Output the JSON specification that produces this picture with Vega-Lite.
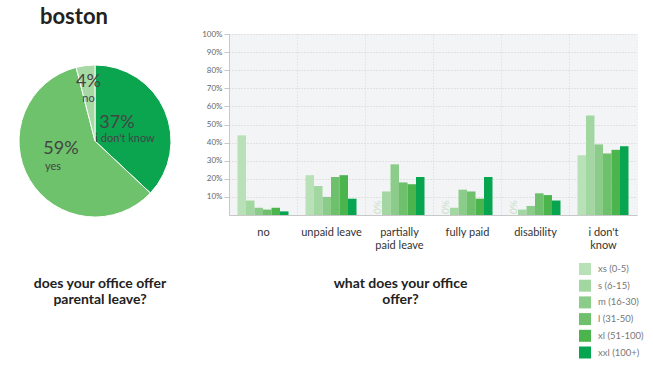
{
  "$schema": "https://vega.github.io/schema/vega-lite/v6.json",
  "padding": {"left": 0, "top": 6, "right": 5, "bottom": 0},
  "autosize": {"type": "pad"},
  "background": "white",
  "config": {
    "font": "Lato",
    "view": {"stroke": null},
    "axis": {"labelFont": "Lato", "titleFont": "Lato"},
    "legend": {"labelFont": "Lato"},
    "title": {"font": "Lato"}
  },
  "title": {
    "text": "boston",
    "anchor": "start",
    "dx": 40,
    "fontSize": 22,
    "fontWeight": "bold",
    "color": "#222222",
    "offset": 1
  },
  "resolve": {"scale": {"color": "independent"}, "legend": {"color": "independent"}},
  "bounds": "flush",
  "spacing": 39,
  "hconcat": [
    {
      "width": 190,
      "height": 214,
      "data": {
        "values": [
          {"answer": "i don't know", "share": 0.37, "ord": 1},
          {"answer": "yes", "share": 0.59, "ord": 2},
          {"answer": "no", "share": 0.04, "ord": 3}
        ]
      },
      "title": {
        "text": ["does your office offer", "parental leave?"],
        "orient": "bottom",
        "anchor": "middle",
        "dx": 5,
        "offset": 29,
        "fontSize": 14,
        "fontWeight": "bold",
        "color": "#222222",
        "lineHeight": 16
      },
      "encoding": {
        "theta": {"field": "share", "type": "quantitative", "stack": true},
        "order": {"field": "ord", "type": "quantitative", "sort": "ascending"}
      },
      "layer": [
        {
          "mark": {"type": "arc", "outerRadius": 76, "stroke": "white", "strokeWidth": 1},
          "encoding": {
            "color": {
              "field": "answer",
              "type": "nominal",
              "scale": {"domain": ["i don't know", "yes", "no"], "range": ["#0ba550", "#6dc26b", "#a6d9a4"]},
              "legend": null
            }
          }
        },
        {
          "mark": {"type": "text", "radius": 24, "dy": -8, "fontSize": 18, "color": "#444444", "align": "center", "baseline": "middle"},
          "encoding": {
            "text": {"condition": {"test": "datum.answer == \"i don't know\"", "field": "share", "type": "quantitative", "format": ".0%"}, "value": ""}
          }
        },
        {
          "mark": {"type": "text", "radius": 24, "dy": 8, "dx": 8, "fontSize": 11, "color": "#444444", "align": "center", "baseline": "middle"},
          "encoding": {
            "text": {"condition": {"test": "datum.answer == \"i don't know\"", "field": "answer", "type": "nominal"}, "value": ""}
          }
        },
        {
          "mark": {"type": "text", "radius": 36, "dy": -10, "dx": -3, "fontSize": 18, "color": "#444444", "align": "center", "baseline": "middle"},
          "encoding": {
            "text": {"condition": {"test": "datum.answer == 'yes'", "field": "share", "type": "quantitative", "format": ".0%"}, "value": ""}
          }
        },
        {
          "mark": {"type": "text", "radius": 36, "dy": 8, "dx": -11, "fontSize": 11, "color": "#444444", "align": "center", "baseline": "middle"},
          "encoding": {
            "text": {"condition": {"test": "datum.answer == 'yes'", "field": "answer", "type": "nominal"}, "value": ""}
          }
        },
        {
          "mark": {"type": "text", "radius": 52, "dy": -7, "fontSize": 18, "color": "#444444", "align": "center", "baseline": "middle"},
          "encoding": {
            "text": {"condition": {"test": "datum.answer == 'no'", "field": "share", "type": "quantitative", "format": ".0%"}, "value": ""}
          }
        },
        {
          "mark": {"type": "text", "radius": 52, "dy": 10, "fontSize": 11, "color": "#444444", "align": "center", "baseline": "middle"},
          "encoding": {
            "text": {"condition": {"test": "datum.answer == 'no'", "field": "answer", "type": "nominal"}, "value": ""}
          }
        }
      ]
    },
    {
      "width": 408,
      "height": 181,
      "view": {"fill": "#f3f4f6", "stroke": null},
      "data": {
        "values": [
          {"offer": "no", "size": "xs (0-5)", "value": 44},
          {"offer": "no", "size": "s (6-15)", "value": 8},
          {"offer": "no", "size": "m (16-30)", "value": 4},
          {"offer": "no", "size": "l (31-50)", "value": 3},
          {"offer": "no", "size": "xl (51-100)", "value": 4},
          {"offer": "no", "size": "xxl (100+)", "value": 2},
          {"offer": "unpaid leave", "size": "xs (0-5)", "value": 22},
          {"offer": "unpaid leave", "size": "s (6-15)", "value": 16},
          {"offer": "unpaid leave", "size": "m (16-30)", "value": 10},
          {"offer": "unpaid leave", "size": "l (31-50)", "value": 21},
          {"offer": "unpaid leave", "size": "xl (51-100)", "value": 22},
          {"offer": "unpaid leave", "size": "xxl (100+)", "value": 9},
          {"offer": "partially paid leave", "size": "xs (0-5)", "value": 0},
          {"offer": "partially paid leave", "size": "s (6-15)", "value": 13},
          {"offer": "partially paid leave", "size": "m (16-30)", "value": 28},
          {"offer": "partially paid leave", "size": "l (31-50)", "value": 18},
          {"offer": "partially paid leave", "size": "xl (51-100)", "value": 17},
          {"offer": "partially paid leave", "size": "xxl (100+)", "value": 21},
          {"offer": "fully paid", "size": "xs (0-5)", "value": 0},
          {"offer": "fully paid", "size": "s (6-15)", "value": 4},
          {"offer": "fully paid", "size": "m (16-30)", "value": 14},
          {"offer": "fully paid", "size": "l (31-50)", "value": 13},
          {"offer": "fully paid", "size": "xl (51-100)", "value": 9},
          {"offer": "fully paid", "size": "xxl (100+)", "value": 21},
          {"offer": "disability", "size": "xs (0-5)", "value": 0},
          {"offer": "disability", "size": "s (6-15)", "value": 3},
          {"offer": "disability", "size": "m (16-30)", "value": 5},
          {"offer": "disability", "size": "l (31-50)", "value": 12},
          {"offer": "disability", "size": "xl (51-100)", "value": 11},
          {"offer": "disability", "size": "xxl (100+)", "value": 8},
          {"offer": "i don't know", "size": "xs (0-5)", "value": 33},
          {"offer": "i don't know", "size": "s (6-15)", "value": 55},
          {"offer": "i don't know", "size": "m (16-30)", "value": 39},
          {"offer": "i don't know", "size": "l (31-50)", "value": 34},
          {"offer": "i don't know", "size": "xl (51-100)", "value": 36},
          {"offer": "i don't know", "size": "xxl (100+)", "value": 38}
        ]
      },
      "encoding": {
        "x": {
          "field": "offer",
          "type": "nominal",
          "sort": ["no", "unpaid leave", "partially paid leave", "fully paid", "disability", "i don't know"],
          "scale": {"paddingInner": 0, "paddingOuter": 0},
          "axis": {
            "title": ["what does your office", "offer?"],
            "titleFontSize": 14,
            "titleFontWeight": "bold",
            "titleColor": "#222222",
            "titleLineHeight": 16,
            "titlePadding": 26,
            "titleX": 171,
            "titleAlign": "center",
            "labelAngle": 0,
            "labelFontSize": 11,
            "labelColor": "#333333",
            "labelPadding": 11,
            "labelLineHeight": 13,
            "labelExpr": "datum.label == 'partially paid leave' ? ['partially', 'paid leave'] : datum.label == \"i don't know\" ? ['i don\\'t', 'know'] : datum.label",
            "ticks": false,
            "domain": true,
            "domainColor": "#c8c8c8",
            "grid": true,
            "gridColor": "#d8d8d8",
            "gridDash": [1, 2],
            "tickBand": "extent"
          }
        },
        "xOffset": {
          "field": "size",
          "type": "nominal",
          "sort": ["xs (0-5)", "s (6-15)", "m (16-30)", "l (31-50)", "xl (51-100)", "xxl (100+)"],
          "scale": {"paddingInner": 0, "paddingOuter": 1.53}
        },
        "y": {
          "field": "value",
          "type": "quantitative",
          "scale": {"domain": [0, 100]},
          "axis": {
            "title": null,
            "values": [10, 20, 30, 40, 50, 60, 70, 80, 90, 100],
            "labelExpr": "datum.value + '%'",
            "labelFontSize": 8,
            "labelColor": "#666666",
            "labelPadding": 2,
            "tickSize": 5,
            "tickColor": "#c8c8c8",
            "domain": true,
            "domainColor": "#c8c8c8",
            "grid": true,
            "gridColor": "#cfcfcf",
            "gridDash": [1, 2]
          }
        }
      },
      "layer": [
        {
          "mark": {"type": "bar"},
          "encoding": {
            "color": {
              "field": "size",
              "type": "nominal",
              "sort": ["xs (0-5)", "s (6-15)", "m (16-30)", "l (31-50)", "xl (51-100)", "xxl (100+)"],
              "scale": {
                "domain": ["xs (0-5)", "s (6-15)", "m (16-30)", "l (31-50)", "xl (51-100)", "xxl (100+)"],
                "range": ["#b9e1b7", "#a3d7a1", "#8ccc8a", "#6fc06d", "#4cb44c", "#07a550"]
              },
              "legend": {
                "title": null,
                "orient": "none",
                "legendX": 350,
                "legendY": 229,
                "symbolType": "square",
                "symbolSize": 144,
                "symbolStrokeWidth": 0,
                "symbolOpacity": 1,
                "labelFontSize": 9.5,
                "labelColor": "#777777",
                "labelOffset": 7,
                "rowPadding": 4.7
              }
            }
          }
        },
        {
          "transform": [{"filter": "datum.value === 0"}],
          "mark": {"type": "text", "angle": 270, "align": "left", "baseline": "middle", "fontSize": 10, "color": "#c9ddc9", "dx": 1},
          "encoding": {
            "text": {"value": "0%"}
          }
        }
      ]
    }
  ]
}
